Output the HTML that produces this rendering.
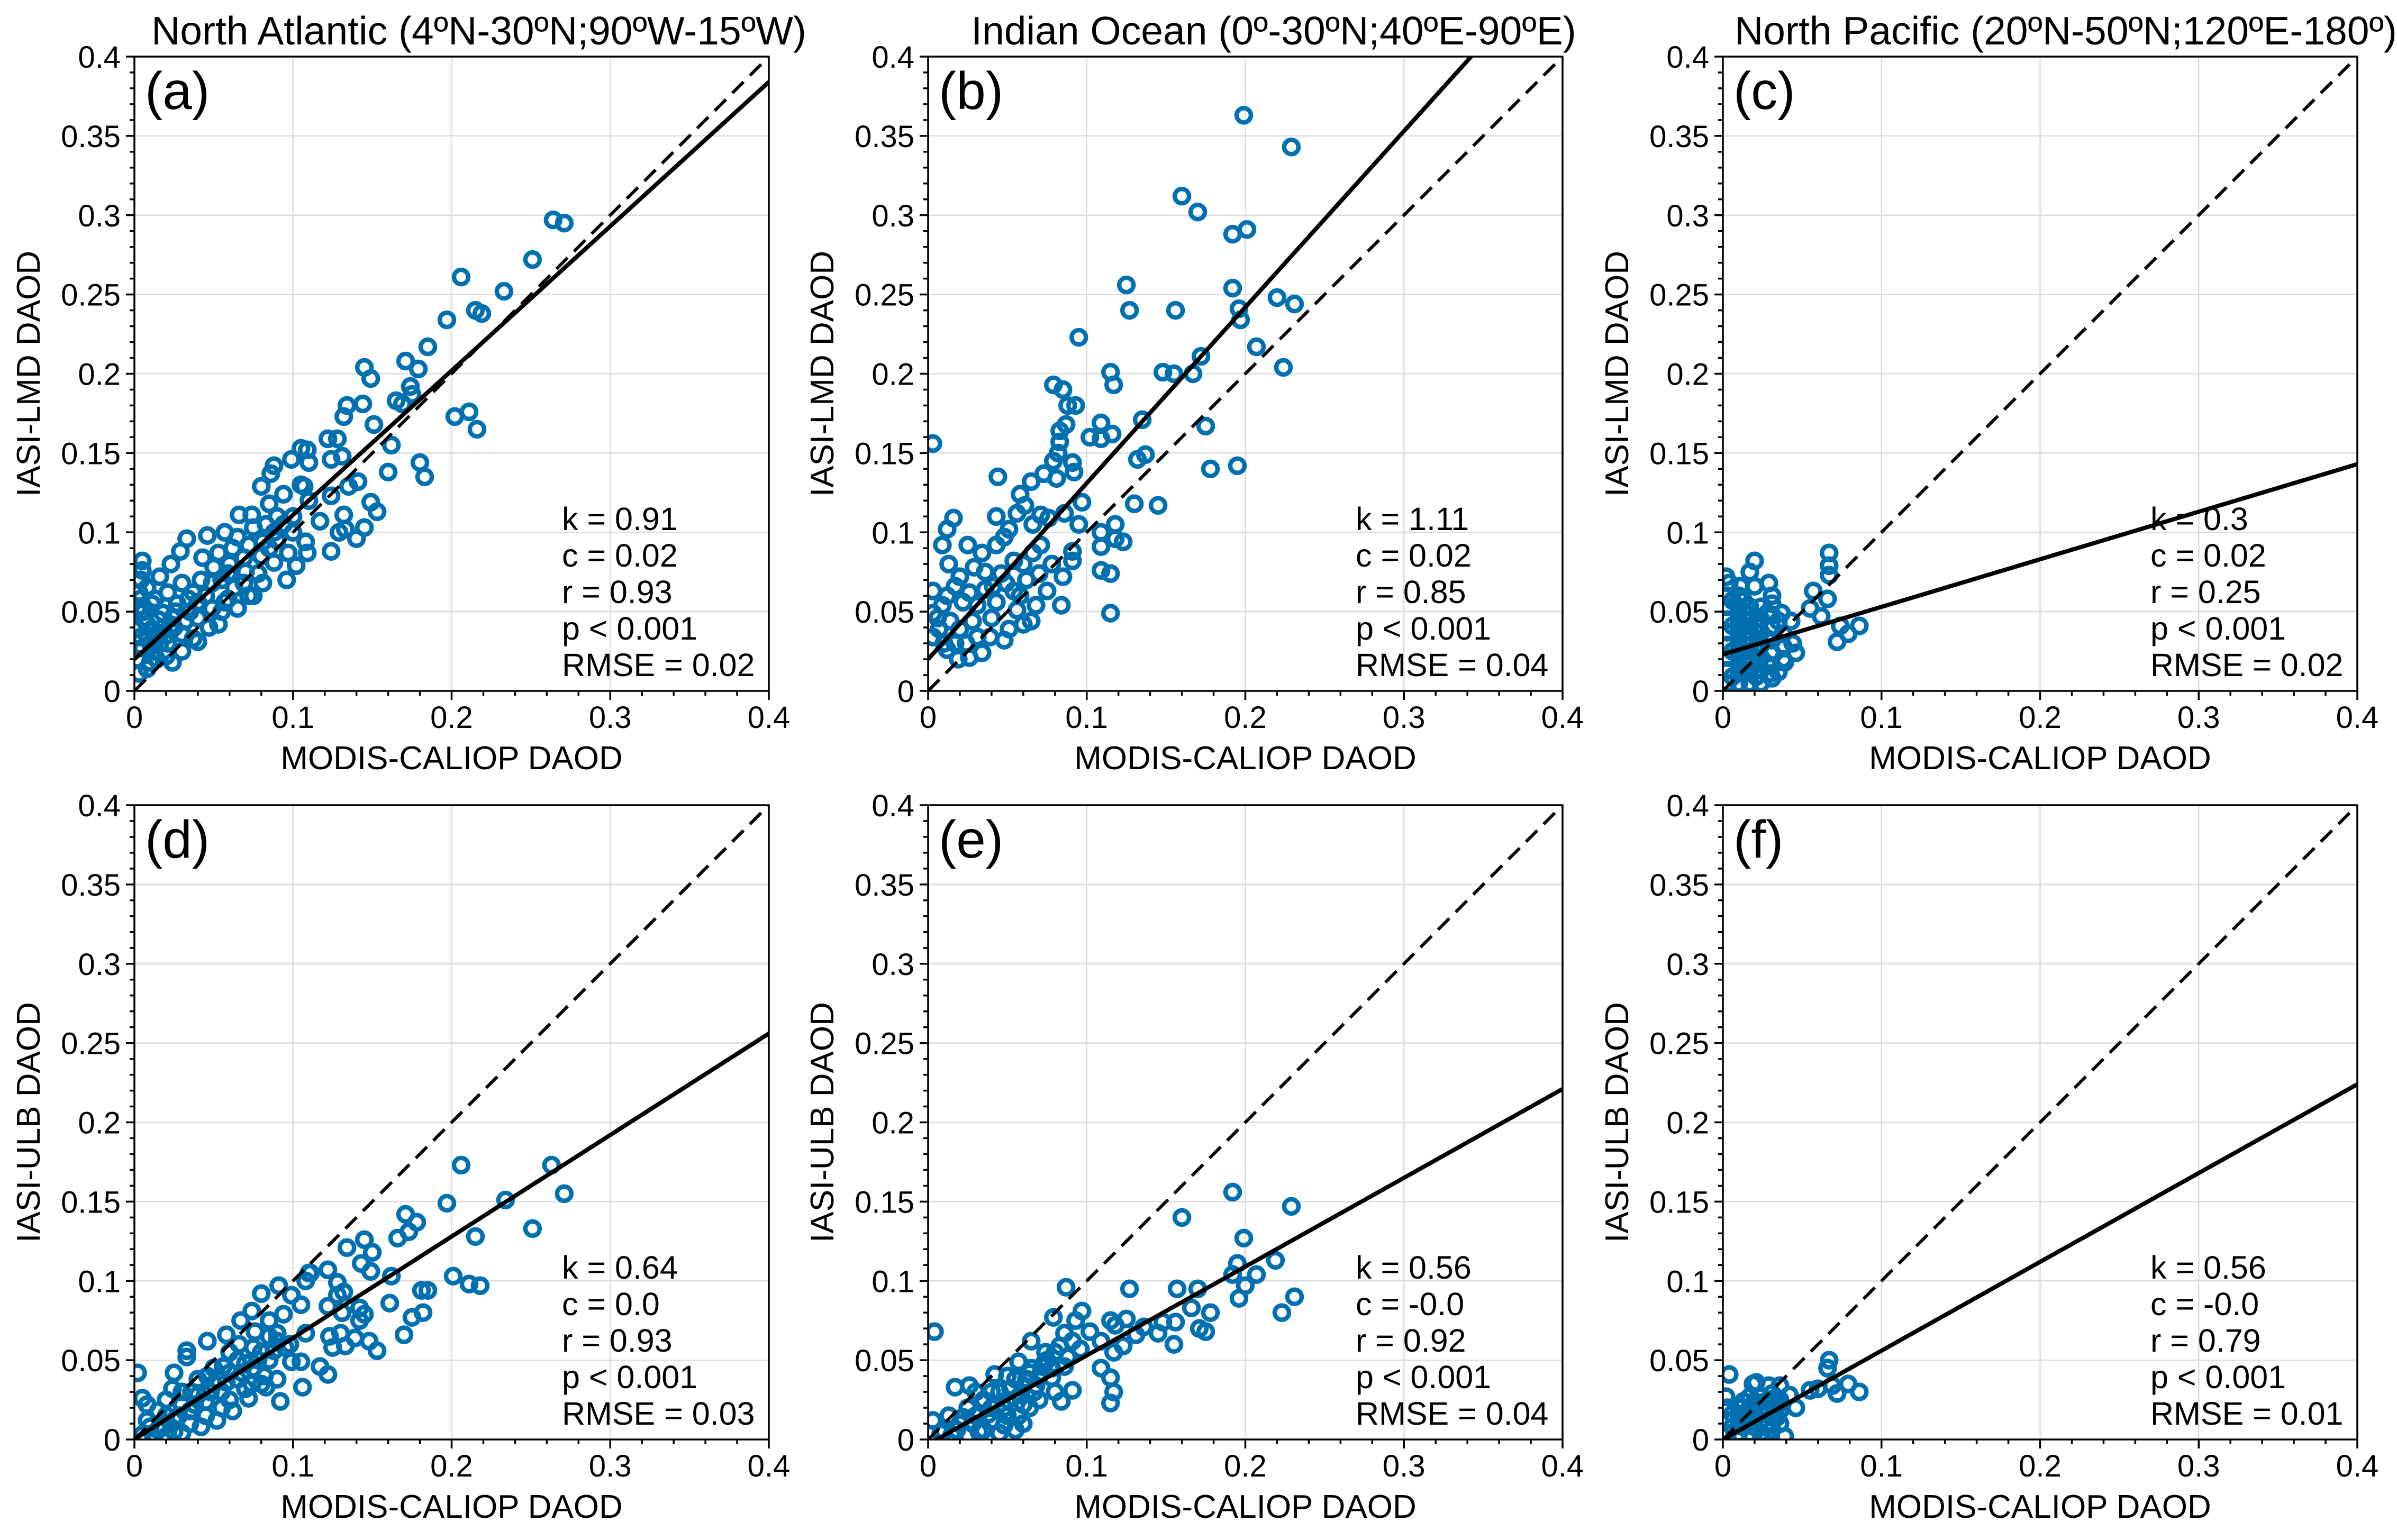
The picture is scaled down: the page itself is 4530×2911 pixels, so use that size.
<!DOCTYPE html>
<html><head><meta charset="utf-8">
<style>
html,body{margin:0;padding:0;background:#fff;}
svg{display:block;}
text{font-family:"Liberation Sans",Arial,sans-serif;fill:#000;}
</style></head>
<body>
<svg id="fig" width="4530" height="2911" viewBox="0 0 4530 2911" xmlns="http://www.w3.org/2000/svg"></svg>
<script>
// ---------- data ----------
const panelLetters = ["(a)","(b)","(c)","(d)","(e)","(f)"];
const panelTitles = ["North Atlantic (4ºN-30ºN;90ºW-15ºW)","Indian Ocean (0º-30ºN;40ºE-90ºE)","North Pacific (20ºN-50ºN;120ºE-180º)","","",""];
const yLabels = ["IASI-LMD DAOD","IASI-LMD DAOD","IASI-LMD DAOD","IASI-ULB DAOD","IASI-ULB DAOD","IASI-ULB DAOD"];
const xLabel = "MODIS-CALIOP DAOD";
const slopes = [0.91,1.11,0.30,0.64,0.56,0.56];
const intercepts = [0.02,0.02,0.023,0.0,-0.003,0.0];
const statK = ["0.91","1.11","0.3","0.64","0.56","0.56"];
const statC = ["0.02","0.02","0.02","0.0","-0.0","-0.0"];
const statR = ["0.93","0.85","0.25","0.93","0.92","0.79"];
const statRMSE = ["0.02","0.04","0.02","0.03","0.04","0.01"];
const xTicks = [0,0.1,0.2,0.3,0.4];
const xTickLabels = ["0","0.1","0.2","0.3","0.4"];
const yTicks = [0,0.05,0.1,0.15,0.2,0.25,0.3,0.35,0.4];
const yTickLabels = ["0","0.05","0.1","0.15","0.2","0.25","0.3","0.35","0.4"];

const pointsA = [[0.264,0.297],[0.271,0.295],[0.251,0.272],[0.206,0.261],[0.233,0.252],[0.215,0.240],[0.219,0.238],[0.197,0.234],[0.185,0.217],[0.171,0.208],[0.179,0.203],[0.145,0.204],[0.149,0.197],[0.174,0.192],[0.175,0.187],[0.165,0.183],[0.169,0.181],[0.134,0.180],[0.144,0.181],[0.132,0.173],[0.151,0.168],[0.202,0.173],[0.211,0.176],[0.216,0.165],[0.162,0.155],[0.160,0.138],[0.180,0.144],[0.183,0.135],[0.122,0.159],[0.128,0.159],[0.105,0.153],[0.109,0.152],[0.099,0.146],[0.110,0.144],[0.124,0.146],[0.131,0.148],[0.088,0.142],[0.086,0.137],[0.080,0.129],[0.135,0.129],[0.141,0.132],[0.124,0.123],[0.107,0.129],[0.149,0.119],[0.153,0.113],[0.132,0.111],[0.117,0.107],[0.129,0.100],[0.133,0.102],[0.145,0.103],[0.140,0.096],[0.124,0.088],[0.108,0.094],[0.109,0.087],[0.102,0.079],[0.096,0.070],[0.075,0.060],[0.057,0.056],[0.040,0.031],[0.024,0.018],[0.005,0.082],[0.005,0.076],[0.008,0.065],[0.016,0.072],[0.023,0.080],[0.029,0.088],[0.033,0.096],[0.046,0.098],[0.057,0.100],[0.066,0.111],[0.074,0.111],[0.085,0.118],[0.094,0.124],[0.043,0.084],[0.053,0.087],[0.065,0.097],[0.075,0.103],[0.088,0.100],[0.081,0.094],[0.069,0.084],[0.059,0.074],[0.049,0.068],[0.037,0.062],[0.027,0.055],[0.018,0.049],[0.011,0.039],[0.005,0.027],[0.008,0.014],[0.014,0.020],[0.021,0.030],[0.030,0.036],[0.040,0.046],[0.049,0.052],[0.059,0.058],[0.069,0.068],[0.078,0.074],[0.088,0.081],[0.097,0.087],[0.081,0.068],[0.065,0.052],[0.053,0.042],[0.037,0.033],[0.002,0.052],[0.002,0.039],[0.003,0.062],[0.006,0.045],[0.011,0.055],[0.021,0.062],[0.030,0.068],[0.024,0.046],[0.014,0.033],[0.002,0.020],[0.003,0.011],[0.010,0.030],[0.020,0.035],[0.015,0.045],[0.025,0.040],[0.035,0.050],[0.045,0.060],[0.055,0.070],[0.060,0.080],[0.070,0.075],[0.080,0.085],[0.090,0.095],[0.100,0.100],[0.100,0.110],[0.110,0.120],[0.105,0.130],[0.090,0.110],[0.012,0.025],[0.006,0.050],[0.004,0.058],[0.008,0.035],[0.030,0.025],[0.020,0.022],[0.008,0.042],[0.013,0.058],[0.018,0.040],[0.026,0.050],[0.034,0.058],[0.042,0.070],[0.050,0.078],[0.062,0.090],[0.072,0.092],[0.083,0.105],[0.047,0.040],[0.055,0.050],[0.063,0.065],[0.072,0.060],[0.085,0.090],[0.094,0.105],[0.016,0.030],[0.032,0.044],[0.040,0.056],[0.010,0.018],[0.004,0.034],[0.004,0.070]];

const pointsB = [[0.199,0.363],[0.229,0.343],[0.160,0.312],[0.170,0.302],[0.192,0.288],[0.201,0.291],[0.125,0.256],[0.127,0.240],[0.156,0.240],[0.192,0.254],[0.196,0.241],[0.197,0.234],[0.220,0.248],[0.231,0.244],[0.095,0.223],[0.207,0.217],[0.172,0.211],[0.224,0.204],[0.115,0.201],[0.117,0.193],[0.148,0.201],[0.155,0.200],[0.167,0.200],[0.079,0.193],[0.085,0.190],[0.088,0.180],[0.093,0.180],[0.087,0.168],[0.083,0.164],[0.083,0.157],[0.082,0.150],[0.079,0.145],[0.091,0.144],[0.092,0.138],[0.081,0.134],[0.073,0.137],[0.065,0.132],[0.044,0.135],[0.003,0.156],[0.102,0.160],[0.109,0.169],[0.116,0.162],[0.109,0.159],[0.135,0.171],[0.132,0.146],[0.137,0.149],[0.175,0.167],[0.178,0.140],[0.195,0.142],[0.130,0.118],[0.145,0.117],[0.097,0.119],[0.095,0.105],[0.086,0.112],[0.109,0.100],[0.118,0.105],[0.123,0.094],[0.118,0.096],[0.109,0.091],[0.091,0.088],[0.091,0.082],[0.109,0.076],[0.115,0.074],[0.115,0.049],[0.084,0.054],[0.043,0.110],[0.016,0.109],[0.012,0.102],[0.009,0.092],[0.013,0.080],[0.025,0.092],[0.058,0.124],[0.061,0.117],[0.056,0.112],[0.071,0.111],[0.076,0.109],[0.066,0.105],[0.051,0.102],[0.043,0.092],[0.034,0.087],[0.029,0.078],[0.036,0.075],[0.048,0.097],[0.060,0.080],[0.066,0.087],[0.071,0.092],[0.078,0.080],[0.085,0.072],[0.075,0.063],[0.068,0.054],[0.065,0.044],[0.060,0.042],[0.051,0.039],[0.048,0.032],[0.034,0.024],[0.026,0.021],[0.019,0.020],[0.010,0.030],[0.003,0.034],[0.003,0.049],[0.003,0.063],[0.017,0.066],[0.022,0.056],[0.014,0.044],[0.031,0.054],[0.043,0.056],[0.054,0.063],[0.049,0.068],[0.041,0.066],[0.009,0.054],[0.020,0.039],[0.039,0.034],[0.056,0.051],[0.007,0.039],[0.031,0.034],[0.017,0.030],[0.006,0.046],[0.012,0.060],[0.020,0.072],[0.026,0.062],[0.036,0.064],[0.046,0.074],[0.054,0.082],[0.040,0.046],[0.028,0.044],[0.012,0.026],[0.024,0.030],[0.062,0.070],[0.070,0.074],[0.058,0.060]];

const pointsC = [[0.020,0.082],[0.017,0.075],[0.020,0.066],[0.029,0.068],[0.031,0.060],[0.031,0.055],[0.037,0.049],[0.043,0.044],[0.067,0.087],[0.067,0.079],[0.067,0.073],[0.057,0.063],[0.066,0.058],[0.055,0.052],[0.062,0.047],[0.074,0.041],[0.086,0.041],[0.079,0.036],[0.072,0.031],[0.046,0.024],[0.039,0.018],[0.030,0.011],[0.002,0.072],[0.004,0.068],[0.011,0.066],[0.013,0.057],[0.003,0.005],[0.003,0.013],[0.003,0.021],[0.003,0.029],[0.003,0.037],[0.003,0.045],[0.003,0.053],[0.003,0.060],[0.010,0.005],[0.010,0.013],[0.010,0.021],[0.010,0.029],[0.010,0.037],[0.010,0.045],[0.010,0.053],[0.010,0.060],[0.017,0.005],[0.017,0.013],[0.017,0.021],[0.017,0.029],[0.017,0.037],[0.017,0.045],[0.017,0.053],[0.024,0.005],[0.024,0.013],[0.024,0.021],[0.024,0.029],[0.024,0.037],[0.024,0.045],[0.024,0.053],[0.031,0.008],[0.031,0.016],[0.031,0.024],[0.031,0.032],[0.031,0.040],[0.031,0.048],[0.038,0.020],[0.038,0.028],[0.038,0.036],[0.044,0.030],[0.006,0.009],[0.006,0.025],[0.006,0.041],[0.006,0.057],[0.014,0.017],[0.014,0.033],[0.014,0.049],[0.021,0.009],[0.021,0.025],[0.021,0.041],[0.028,0.017],[0.028,0.033],[0.028,0.049],[0.035,0.012],[0.035,0.044]];

const pointsD = [[0.206,0.173],[0.263,0.173],[0.271,0.155],[0.234,0.151],[0.197,0.149],[0.171,0.142],[0.178,0.137],[0.173,0.131],[0.166,0.127],[0.251,0.133],[0.215,0.128],[0.134,0.121],[0.145,0.126],[0.150,0.118],[0.143,0.111],[0.149,0.106],[0.122,0.107],[0.162,0.103],[0.201,0.103],[0.211,0.098],[0.218,0.097],[0.181,0.094],[0.185,0.094],[0.161,0.086],[0.175,0.077],[0.182,0.080],[0.170,0.066],[0.111,0.105],[0.128,0.099],[0.132,0.093],[0.128,0.091],[0.122,0.084],[0.131,0.080],[0.142,0.083],[0.145,0.079],[0.142,0.075],[0.123,0.065],[0.130,0.067],[0.139,0.064],[0.148,0.062],[0.153,0.056],[0.125,0.058],[0.133,0.059],[0.117,0.046],[0.122,0.041],[0.106,0.033],[0.092,0.024],[0.083,0.033],[0.090,0.038],[0.099,0.049],[0.105,0.049],[0.080,0.035],[0.074,0.035],[0.091,0.097],[0.080,0.092],[0.108,0.100],[0.110,0.105],[0.099,0.091],[0.105,0.085],[0.094,0.079],[0.108,0.067],[0.098,0.060],[0.090,0.067],[0.085,0.075],[0.074,0.081],[0.067,0.075],[0.076,0.068],[0.058,0.066],[0.046,0.062],[0.033,0.056],[0.033,0.052],[0.025,0.042],[0.024,0.032],[0.005,0.026],[0.002,0.042],[0.008,0.022],[0.005,0.003],[0.010,0.008],[0.015,0.006],[0.020,0.015],[0.025,0.012],[0.030,0.022],[0.035,0.018],[0.040,0.028],[0.045,0.024],[0.050,0.035],[0.055,0.030],[0.060,0.042],[0.065,0.038],[0.070,0.048],[0.075,0.045],[0.080,0.055],[0.085,0.050],[0.090,0.062],[0.095,0.058],[0.040,0.038],[0.050,0.045],[0.060,0.055],[0.030,0.030],[0.020,0.025],[0.015,0.018],[0.055,0.020],[0.045,0.015],[0.035,0.010],[0.025,0.005],[0.060,0.025],[0.070,0.032],[0.065,0.050],[0.075,0.058],[0.085,0.065],[0.012,0.001],[0.020,0.002],[0.030,0.004],[0.008,0.012],[0.018,0.008],[0.028,0.015],[0.038,0.022],[0.048,0.030],[0.058,0.036],[0.068,0.042],[0.078,0.050],[0.088,0.056],[0.042,0.008],[0.052,0.012],[0.062,0.018],[0.072,0.026],[0.082,0.040],[0.036,0.030],[0.046,0.040],[0.056,0.046],[0.066,0.060]];

const pointsE = [[0.192,0.156],[0.229,0.147],[0.160,0.140],[0.199,0.127],[0.195,0.111],[0.219,0.113],[0.192,0.104],[0.207,0.104],[0.200,0.097],[0.196,0.089],[0.231,0.090],[0.223,0.080],[0.178,0.080],[0.166,0.083],[0.170,0.095],[0.157,0.095],[0.127,0.095],[0.087,0.096],[0.156,0.074],[0.155,0.060],[0.171,0.070],[0.175,0.068],[0.148,0.074],[0.145,0.067],[0.136,0.071],[0.131,0.066],[0.125,0.076],[0.115,0.075],[0.118,0.072],[0.097,0.081],[0.093,0.075],[0.079,0.077],[0.102,0.068],[0.109,0.062],[0.123,0.059],[0.117,0.055],[0.109,0.045],[0.115,0.039],[0.117,0.030],[0.115,0.023],[0.091,0.031],[0.084,0.024],[0.086,0.067],[0.083,0.059],[0.091,0.062],[0.096,0.057],[0.074,0.055],[0.065,0.062],[0.057,0.049],[0.042,0.041],[0.026,0.034],[0.017,0.033],[0.004,0.068],[0.086,0.046],[0.078,0.039],[0.080,0.030],[0.073,0.048],[0.064,0.042],[0.067,0.030],[0.064,0.020],[0.057,0.015],[0.048,0.009],[0.032,0.005],[0.013,0.015],[0.003,0.012],[0.010,0.005],[0.020,0.010],[0.030,0.015],[0.040,0.020],[0.050,0.025],[0.060,0.033],[0.070,0.040],[0.045,0.030],[0.035,0.025],[0.025,0.020],[0.055,0.038],[0.065,0.045],[0.075,0.050],[0.080,0.055],[0.040,0.012],[0.050,0.015],[0.060,0.022],[0.070,0.025],[0.015,0.003],[0.025,0.003],[0.045,0.004],[0.060,0.010],[0.030,0.030],[0.050,0.040],[0.008,0.004],[0.018,0.006],[0.028,0.010],[0.038,0.016],[0.048,0.020],[0.058,0.028],[0.068,0.034],[0.078,0.045],[0.088,0.052],[0.040,0.030],[0.052,0.032],[0.062,0.038],[0.072,0.046],[0.035,0.006],[0.055,0.006],[0.022,0.014]];

const pointsF = [[0.004,0.041],[0.002,0.027],[0.019,0.035],[0.021,0.036],[0.029,0.034],[0.036,0.034],[0.042,0.028],[0.046,0.020],[0.039,0.002],[0.067,0.050],[0.066,0.045],[0.055,0.031],[0.060,0.032],[0.069,0.034],[0.079,0.035],[0.072,0.029],[0.086,0.030],[0.003,0.004],[0.003,0.012],[0.003,0.020],[0.010,0.004],[0.010,0.012],[0.010,0.020],[0.017,0.004],[0.017,0.012],[0.017,0.020],[0.017,0.027],[0.024,0.004],[0.024,0.012],[0.024,0.020],[0.024,0.027],[0.031,0.006],[0.031,0.014],[0.031,0.022],[0.031,0.029],[0.036,0.010],[0.036,0.018],[0.036,0.025],[0.013,0.024],[0.028,0.002],[0.006,0.008],[0.006,0.016],[0.013,0.008],[0.013,0.016],[0.020,0.008],[0.020,0.016],[0.020,0.024],[0.027,0.008],[0.027,0.016],[0.027,0.024],[0.034,0.014],[0.034,0.021]];

const panelPoints = [pointsA,pointsB,pointsC,pointsD,pointsE,pointsF];

// ---------- layout ----------
const colLeft = [254,1754,3256];
const rowTop = [107,1522];
const W = 1199, H = 1199;
const VMAX = 0.4;
const NS = "http://www.w3.org/2000/svg";
const svg = document.getElementById('fig');

function mk(tag, attrs, parent){
  const e = document.createElementNS(NS, tag);
  for (const k in attrs) e.setAttribute(k, attrs[k]);
  (parent||svg).appendChild(e);
  return e;
}

for (let p = 0; p < 6; p++){
  const L = colLeft[p%3], T = rowTop[Math.floor(p/3)];
  const sx = v => L + v / VMAX * W;
  const sy = v => T + H - v / VMAX * H;
  const g = mk('g', {});
  
  

  const clipId = 'clip' + p;
  const cp = mk('clipPath', {id: clipId}, g);
  mk('rect', {x: L, y: T, width: W, height: H}, cp);

  const grid = mk('g', {stroke: '#dcdcdc', 'stroke-width': 2.5}, g);
  
  
  xTicks.forEach(v => { if (v > 0 && v < VMAX) mk('line', {x1: sx(v), x2: sx(v), y1: T, y2: T + H}, grid); });
  yTicks.forEach(v => { if (v > 0 && v < VMAX) mk('line', {x1: L, x2: L + W, y1: sy(v), y2: sy(v)}, grid); });

  const pts = mk('g', {fill: 'none', stroke: '#0070b0', 'stroke-width': 8.5, 'clip-path': 'url(#' + clipId + ')'}, g);
  
  
  panelPoints[p].forEach(d => {
    const c = mk('circle', {cx: sx(d[0]), cy: sy(d[1]), r: 13.5}, pts);
    
    
  });

  const one = mk('line', {x1: sx(0), y1: sy(0), x2: sx(VMAX), y2: sy(VMAX), stroke: '#000', 'stroke-width': 6, 'stroke-dasharray': '30 17', 'clip-path': 'url(#' + clipId + ')'}, g);
  
  

  const k = slopes[p], c0 = intercepts[p];
  const reg = mk('line', {x1: sx(0), y1: sy(c0), x2: sx(VMAX), y2: sy(k * VMAX + c0), stroke: '#000', 'stroke-width': 8, 'clip-path': 'url(#' + clipId + ')'}, g);
  
  

  const fr = mk('rect', {x: L, y: T, width: W, height: H, fill: 'none', stroke: '#000', 'stroke-width': 3.5}, g);
  
  

  const tk = mk('g', {stroke: '#000', 'stroke-width': 3.5}, g);
  
  
  for (let i = 0; i <= 20; i++){
    const v = i * 0.02, major = (i % 5 === 0);
    mk('line', {x1: sx(v), x2: sx(v), y1: T + H, y2: T + H + (major ? 17 : 9)}, tk);
  }
  for (let i = 0; i <= 40; i++){
    const v = i * 0.01, major = (i % 5 === 0);
    mk('line', {x1: L, x2: L - (major ? 16 : 9), y1: sy(v), y2: sy(v)}, tk);
  }
  xTicks.forEach((v, i) => {
    const t = mk('text', {x: sx(v), y: T + H + 70, 'font-size': 58, 'text-anchor': 'middle'}, g);
    t.textContent = xTickLabels[i];
    
    
  });
  yTicks.forEach((v, i) => {
    const t = mk('text', {x: L - 26, y: sy(v) + 21, 'font-size': 58, 'text-anchor': 'end'}, g);
    t.textContent = yTickLabels[i];
    
    
  });

  const xl = mk('text', {x: L + W / 2, y: T + H + 148, 'font-size': 62, 'text-anchor': 'middle'}, g);
  xl.textContent = xLabel;
  
  
  const ycx = L - 201, ycy = T + H / 2;
  const yl = mk('text', {x: ycx, y: ycy + 22, 'font-size': 62, 'text-anchor': 'middle', transform: 'rotate(-90 ' + ycx + ' ' + ycy + ')'}, g);
  yl.textContent = yLabels[p];
  
  

  const pl = mk('text', {x: L + 20, y: T + 99, 'font-size': 100}, g);
  pl.textContent = panelLetters[p];
  
  

  if (panelTitles[p]){
    const centers = [905, 2407, 3904];
    const tt = mk('text', {x: centers[p], y: 84, 'font-size': 75, 'text-anchor': 'middle'}, g);
    tt.textContent = panelTitles[p];
    
    
  }

  const lines = ['k = ' + statK[p], 'c = ' + statC[p], 'r = ' + statR[p], 'p < 0.001', 'RMSE = ' + statRMSE[p]];
  lines.forEach((s, i) => {
    const t = mk('text', {x: L + 808, y: T + 895 + i * 69, 'font-size': 61}, g);
    t.textContent = s;
    
    
  });
}
</script>
</body></html>
